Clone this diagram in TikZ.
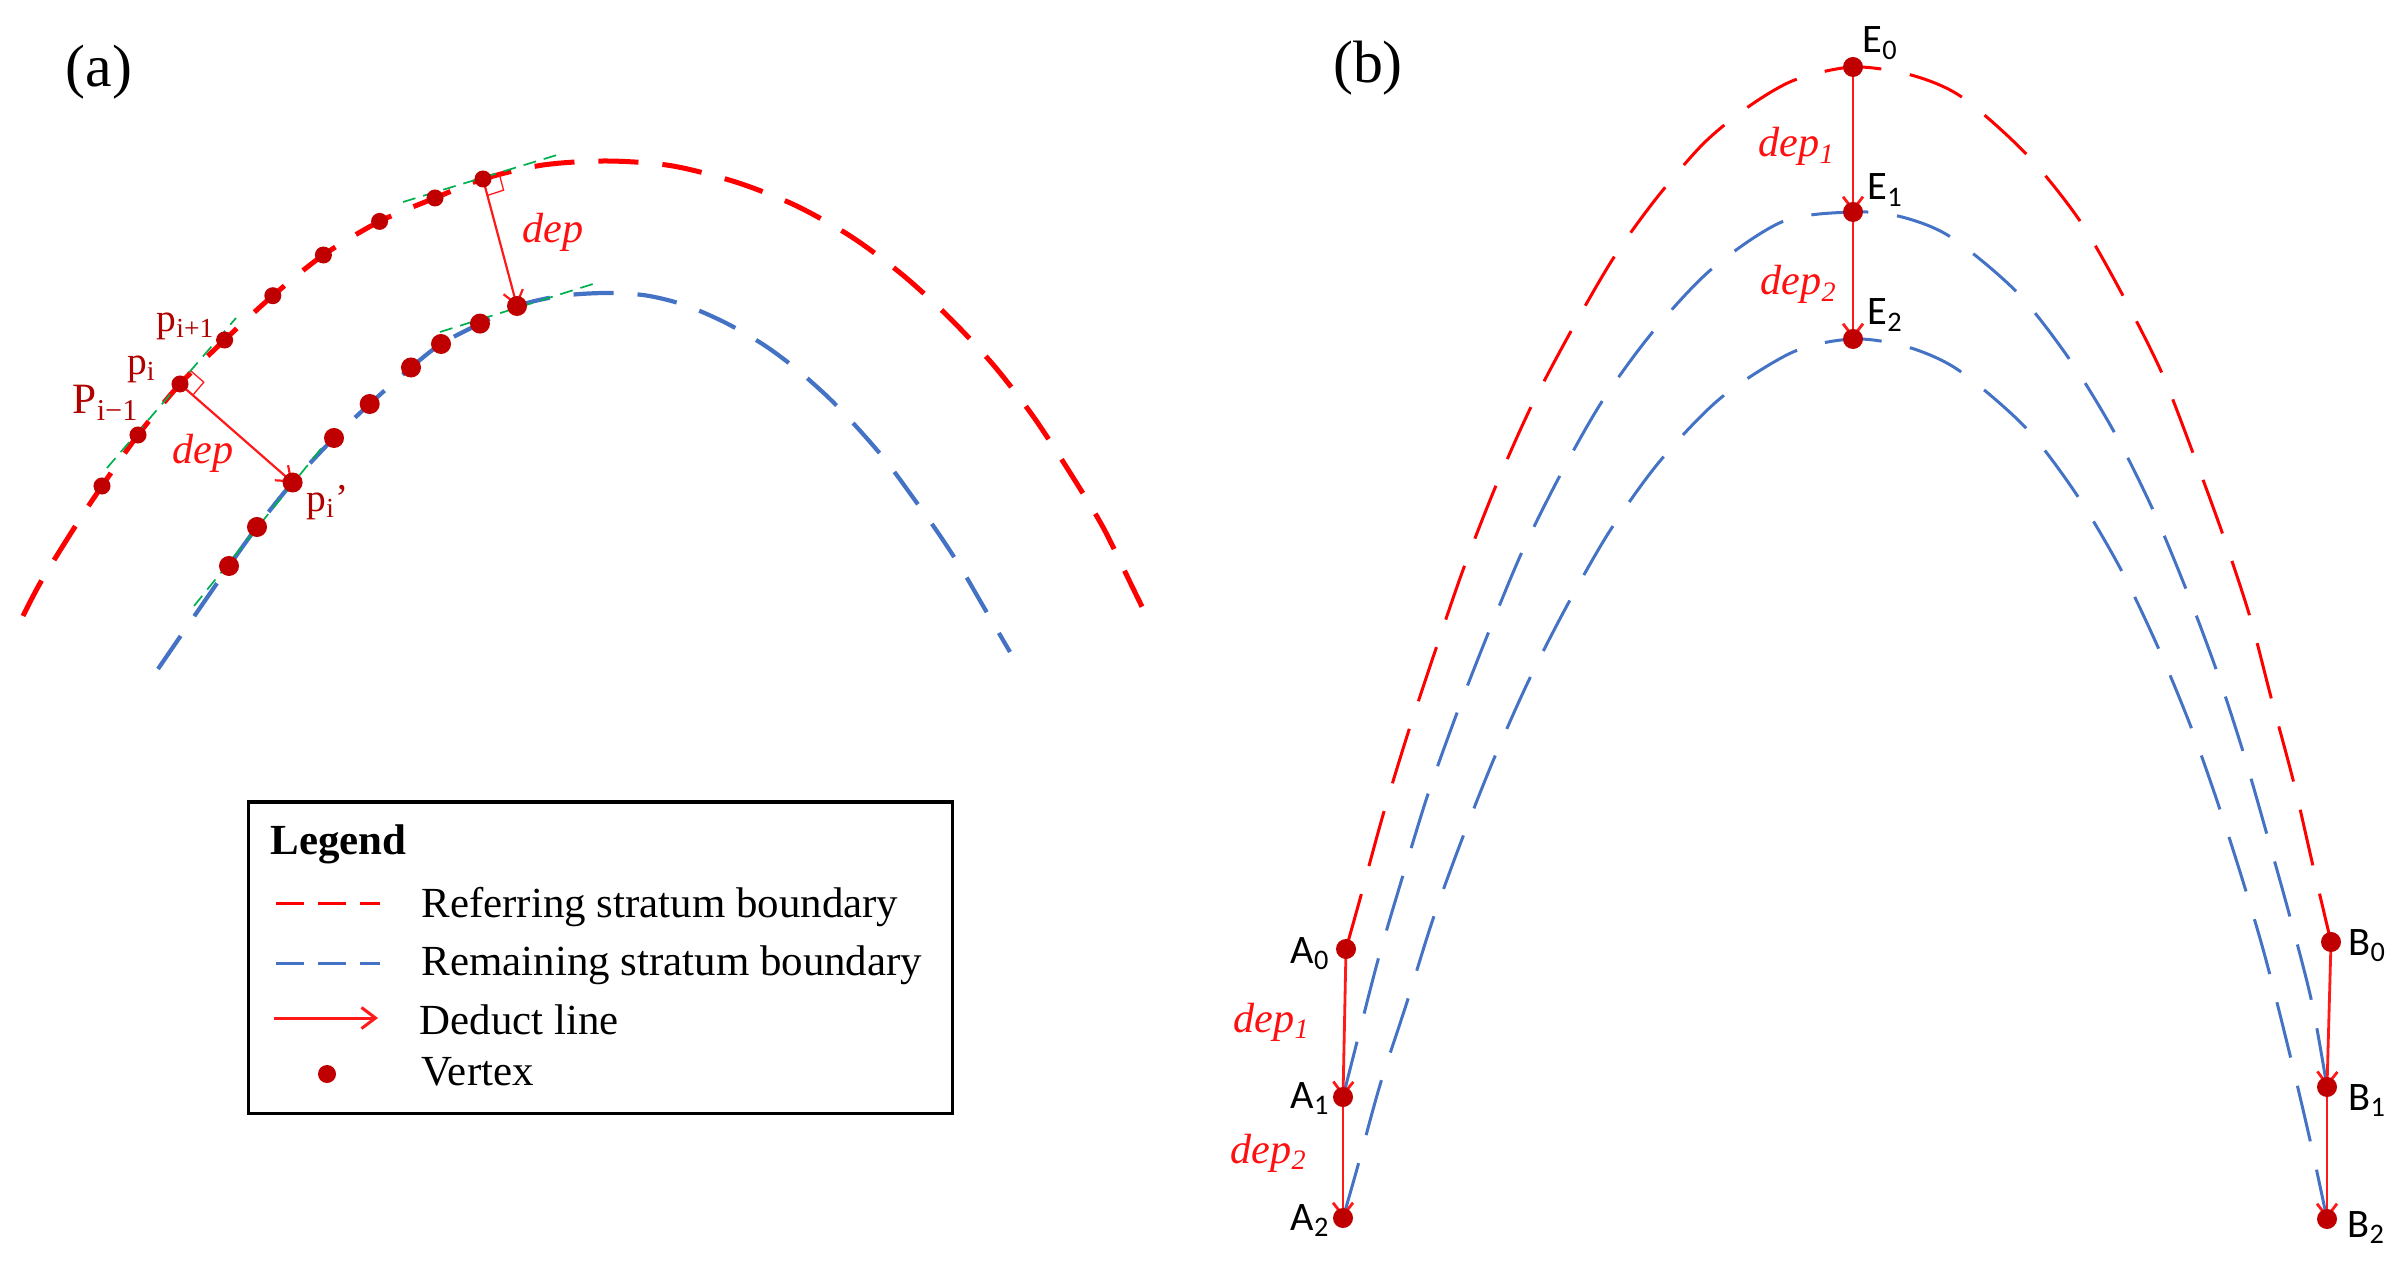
\documentclass[tikz,border=0pt]{standalone}
\usepackage{fontspec}
\setmainfont{Liberation Serif}
\newfontfamily\lblfont{Carlito}
\usetikzlibrary{calc,arrows.meta}
\definecolor{curvered}{HTML}{FF0000}
\definecolor{curveblue}{HTML}{4472C4}
\definecolor{tangreen}{HTML}{00B050}
\definecolor{vtxred}{HTML}{C00000}
\definecolor{lblred}{HTML}{B00000}
\definecolor{arrred}{HTML}{FF1A1A}
\definecolor{deptext}{HTML}{FF1010}
\begin{document}
\begin{tikzpicture}[x=0.01cm, y=-0.01cm,
  redA/.style={draw=curvered, line width=0.05cm, dash pattern=on 0.40cm off 0.24cm, smooth},
  blueA/.style={draw=curveblue, line width=0.042cm, dash pattern=on 0.40cm off 0.24cm, smooth},
  redB/.style={draw=curvered, line width=0.03cm, dash pattern=on 0.57cm off 0.29cm, smooth},
  blueB/.style={draw=curveblue, line width=0.03cm, dash pattern=on 0.57cm off 0.29cm, smooth},
  tang/.style={draw=tangreen, line width=0.017cm, dash pattern=on 0.13cm off 0.08cm},
  deduct/.style={draw=arrred, line width=0.022cm, -{Straight Barb[length=0.13cm, width=0.2cm]}},
  deductB/.style={deduct, line width=0.028cm},
  rightang/.style={draw=arrred, line width=0.013cm},
  vtxS/.style={circle, fill=vtxred, inner sep=0pt, minimum size=0.17cm},
  vtxL/.style={circle, fill=vtxred, inner sep=0pt, minimum size=0.2cm},
  txt/.style={inner sep=0pt, anchor=base west},
  plbl/.style={txt, text=lblred, font=\fontsize{11.2}{13}\selectfont},
  deplbl/.style={txt, text=deptext, font=\fontsize{12}{14}\selectfont\itshape},
  ptlbl/.style={txt, font=\lblfont\fontsize{11.5}{13}\selectfont},
  leglbl/.style={txt, font=\fontsize{12.2}{14}\selectfont},
  panellbl/.style={inner sep=0pt, anchor=base, font=\fontsize{17}{20}\selectfont},
]
\useasboundingbox (0,0) rectangle (2405,1267);

% ---------------- panel (a) ----------------
\node[panellbl] (lbla) at (99,87) {(a)};

\coordinate (r1) at (102,486);
\coordinate (r2) at (138,435);
\coordinate (r3) at (180,384);
\coordinate (r4) at (224.6,340);
\coordinate (r5) at (272.8,295.7);
\coordinate (r6) at (323.4,255);
\coordinate (r7) at (379.6,221.4);
\coordinate (r8) at (435,198);
\coordinate (r9) at (483,179);
\coordinate (b1) at (229,566);
\coordinate (b2) at (257,527);
\coordinate (b3) at (292.6,482.5);
\coordinate (b4) at (334,438);
\coordinate (b5) at (369.7,404);
\coordinate (b6) at (411,367.5);
\coordinate (b7) at (441,344);
\coordinate (b8) at (480,323.6);
\coordinate (b9) at (517,306);

\draw[redA] plot coordinates {(23,616) (41.5,580.7) (77,523.6) (102,486) (138,435) (180,384) (224.6,340) (272.8,295.7) (323.4,255) (379.6,221.4) (435,198) (483,179) (543,165) (607,161) (671,165.7) (735,181.8) (794.6,205) (851.8,237) (903.6,275.7) (950.7,319) (994.6,366.4) (1034,417.5) (1069.6,472) (1102.9,527) (1131.4,585) (1146,615)};
\draw[blueA] plot coordinates {(158,669) (182,634) (229,566) (257,527) (292.6,482.5) (334,438) (369.7,404) (411,367.5) (441,344) (480,323.6) (517,306) (560,296) (605,293) (645.7,295.4) (684.6,305) (726,323) (764,345) (796.4,369) (830,399) (860,430.7) (886.4,461.4) (913,497.5) (938.6,533.6) (960.7,567.5) (983.4,606.5) (1010,652)};

% tangent lines
\coordinate (g1a) at (107,468); \coordinate (g1b) at (236,318);
\coordinate (g2a) at (403,202); \coordinate (g2b) at (557,155);
\coordinate (g3a) at (440,332); \coordinate (g3b) at (593,284);
\coordinate (g4a) at (194,606); \coordinate (g4b) at (328,440);
\draw[tang] (g1a) -- (g1b);
\draw[tang] (g2a) -- (g2b);
\draw[tang] (g3a) -- (g3b);
\draw[tang] (g4a) -- (g4b);

% deduct lines
\draw[deduct] (r3) -- (b3);
\draw[deduct] (r9) -- (b9);

% right angle marks
\coordinate (sqa1) at ($(r3)!0.17cm!(g1b)$);
\coordinate (sqa2) at ($(r3)!0.17cm!(b3)$);
\draw[rightang] (sqa1) -- ($(sqa1)+(sqa2)-(r3)$) -- (sqa2);
\coordinate (sqb1) at ($(r9)!0.17cm!(g2b)$);
\coordinate (sqb2) at ($(r9)!0.17cm!(b9)$);
\draw[rightang] (sqb1) -- ($(sqb1)+(sqb2)-(r9)$) -- (sqb2);

% vertices
\foreach \i in {1,...,9} {
  \node[vtxS] (vr\i) at (r\i) {};
  \node[vtxL] (vb\i) at (b\i) {};
}

% labels
\node[plbl] (lpip1) at (156,332) {p\textsubscript{i+1}};
\node[plbl] (lpi) at (126.5,375) {p\textsubscript{i}};
\node[plbl, font=\fontsize{12.3}{14}\selectfont] (lpim1) at (72,414) {P\textsubscript{i−1}};
\node[plbl] (lpip) at (306,512) {p\textsubscript{i}’};
\node[deplbl] (ldepa) at (172,464) {dep};
\node[deplbl] (ldepb) at (522,243) {dep};

% legend
\draw[line width=0.03cm] (248.5,802) rectangle (952.5,1113.5);
\node[txt, font=\fontsize{12.2}{14}\selectfont\bfseries] (legtitle) at (270,854) {Legend};
\coordinate (lr1) at (276,903); \coordinate (lr2) at (380,903);
\coordinate (lb1) at (276,963); \coordinate (lb2) at (380,963);
\coordinate (la1) at (274,1018); \coordinate (la2) at (378,1018);
\draw[draw=curvered, line width=0.03cm, dash pattern=on 0.28cm off 0.14cm] (lr1) -- (lr2);
\draw[draw=curveblue, line width=0.03cm, dash pattern=on 0.28cm off 0.14cm] (lb1) -- (lb2);
\draw[deduct, line width=0.03cm, -{Straight Barb[length=0.14cm, width=0.21cm]}] (la1) -- (la2);
\node[vtxS, minimum size=0.18cm] (legdot) at (327,1074) {};
\node[leglbl] (legref) at (421,917) {Referring stratum boundary};
\node[leglbl] (legrem) at (421,975) {Remaining stratum boundary};
\node[leglbl] (legded) at (419,1034) {Deduct line};
\node[leglbl] (legvtx) at (421,1085) {Vertex};

% ---------------- panel (b) ----------------
\node[panellbl] (lblb) at (1368,83) {(b)};

\coordinate (E0) at (1853,67);
\coordinate (E1) at (1853,212);
\coordinate (E2) at (1853,339);
\coordinate (A0) at (1346,949);
\coordinate (A1) at (1343,1097);
\coordinate (A2) at (1343,1218);
\coordinate (B0) at (2331,942);
\coordinate (B1) at (2327,1087);
\coordinate (B2) at (2327,1219);

\draw[redB] plot coordinates {(1346,949) (1360,899) (1383,815) (1408,733) (1435,651.5) (1463,570) (1495,488) (1530,409) (1570,333) (1613,258.7) (1655,200) (1703,144) (1748,107) (1794.6,80) (1853,67) (1911,75) (1961.7,97) (2026.7,154.5) (2080,221) (2123,295.7) (2161.7,372.6) (2193,453) (2223,535) (2250,617) (2271.7,700) (2294,783.6) (2313,866) (2331,942)};
\draw[blueB] plot coordinates {(1343,1097) (1356.7,1043) (1378,960) (1402,878.6) (1428,794) (1457,713) (1488,633.7) (1522,552) (1560,475.5) (1602,401.5) (1653,331.6) (1711.7,269) (1783,221.4) (1853,212) (1900,216.5) (1950,236.6) (2016.7,292) (2070,360) (2115,433.5) (2153,510) (2186.7,590.8) (2216.7,671) (2243,751.5) (2266.7,833.6) (2290,917) (2311.7,1001.7) (2327,1087)};
\draw[blueB] plot coordinates {(1343,1218) (1356.7,1170) (1380,1085) (1406.7,1003) (1433,919) (1461.7,840) (1493,761) (1528,682) (1567,605.6) (1610,530.6) (1660,461) (1720.7,398) (1793,352) (1853,339) (1906.7,346.7) (1958,369.8) (2025,427) (2076,493.7) (2120,567.8) (2157,645) (2190,724.5) (2219,806.6) (2245,888) (2266,960) (2290,1055) (2310,1140) (2327,1219)};

\draw[deductB] (E0) -- (E1);
\draw[deductB] (E1) -- (E2);
\draw[deductB] (A0) -- (A1);
\draw[deductB] (A1) -- (A2);
\draw[deductB] (B0) -- (B1);
\draw[deductB] (B1) -- (B2);

\foreach \p in {E0,E1,E2,A0,A1,A2,B0,B1,B2} {
  \node[vtxL] (v\p) at (\p) {};
}

\node[ptlbl] (lE0) at (1862,53) {E\textsubscript{0}};
\node[ptlbl] (lE1) at (1867,200) {E\textsubscript{1}};
\node[ptlbl] (lE2) at (1867,325) {E\textsubscript{2}};
\node[ptlbl] (lA0) at (1290,963) {A\textsubscript{0}};
\node[ptlbl] (lA1) at (1290,1108) {A\textsubscript{1}};
\node[ptlbl] (lA2) at (1290,1230) {A\textsubscript{2}};
\node[ptlbl] (lB0) at (2348,955) {B\textsubscript{0}};
\node[ptlbl] (lB1) at (2348,1110) {B\textsubscript{1}};
\node[ptlbl] (lB2) at (2347,1237) {B\textsubscript{2}};

\node[deplbl] (ldepE1) at (1758,157) {dep\textsubscript{1}};
\node[deplbl] (ldepE2) at (1760,295) {dep\textsubscript{2}};
\node[deplbl] (ldepA1) at (1233,1032) {dep\textsubscript{1}};
\node[deplbl] (ldepA2) at (1230,1163) {dep\textsubscript{2}};
\end{tikzpicture}
\end{document}
